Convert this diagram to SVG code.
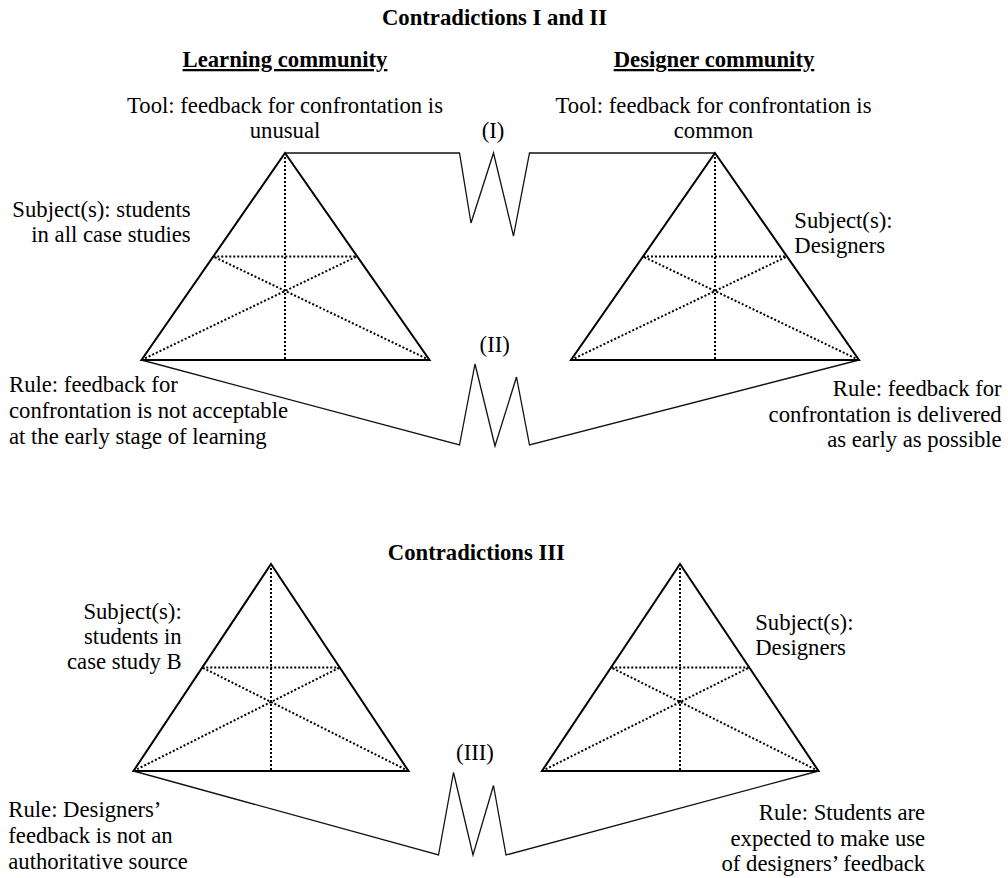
<svg xmlns="http://www.w3.org/2000/svg" width="1008" height="878" viewBox="0 0 1008 878">
<style>
text{font-family:"Liberation Serif","Times New Roman",serif;font-size:22.7px;fill:#000}
.b{font-weight:bold}
.u{text-decoration:underline}
.m{text-anchor:middle}
.e{text-anchor:end}
.tri{fill:none;stroke:#000;stroke-width:2;stroke-linejoin:miter}
.dot{fill:none;stroke:#000;stroke-width:2;stroke-dasharray:2 2}
.con{fill:none;stroke:#111;stroke-width:1.3;stroke-linejoin:miter}
</style>
<rect width="1008" height="878" fill="#fff"/>
<g id="titles">
<text class="b m" x="494.5" y="25">Contradictions I and II</text>
<text class="b u m" x="285" y="67">Learning community</text>
<text class="b u m" x="714" y="67">Designer community</text>
<text class="b m" x="476.4" y="559.5">Contradictions III</text>
</g>
<g id="connectors">
<path class="con" d="M285,153 H459.5 L471,223 L493.5,153 L513.5,236 L529.5,153 H715"/>
<path class="con" d="M141.5,360 L459.5,445 L475,364 L495,446 L516.5,377 L529.5,445 L859,360"/>
<path class="con" d="M133.5,771 L438.5,855 L453.5,772.5 L473,855 L493.5,785.5 L506,855 L818.5,771"/>
<text class="m" x="493" y="138">(I)</text>
<text class="m" x="494.7" y="352">(II)</text>
<text class="m" x="475" y="759.5">(III)</text>
</g>
<g id="learning-community-1">
<path class="dot" d="M285,153 V360 M213.25,256.5 H356.75 M141.5,360 L356.75,256.5 M429.5,360 L213.25,256.5"/>
<path class="tri" d="M285,153 L429.5,360 L141.5,360 Z"/>
<text class="m" x="285" y="112.5">Tool: feedback for confrontation is</text>
<text class="m" x="285" y="138">unusual</text>
<text class="e" x="190.7" y="217">Subject(s): students</text>
<text class="e" x="190.7" y="242">in all case studies</text>
<text x="9" y="391.5">Rule: feedback for</text>
<text x="9" y="418">confrontation is not acceptable</text>
<text x="9" y="444">at the early stage of learning</text>
</g>
<g id="designer-community-1">
<path class="dot" d="M715,153 V360 M643,256.5 H787 M571,360 L787,256.5 M859,360 L643,256.5"/>
<path class="tri" d="M715,153 L859,360 L571,360 Z"/>
<text class="m" x="713.5" y="112.5">Tool: feedback for confrontation is</text>
<text class="m" x="713.5" y="138">common</text>
<text x="794.3" y="228">Subject(s):</text>
<text x="794.3" y="253">Designers</text>
<text class="e" x="1001.7" y="396">Rule: feedback for</text>
<text class="e" x="1001.7" y="421.5">confrontation is delivered</text>
<text class="e" x="1001.7" y="447">as early as possible</text>
</g>
<g id="learning-community-3">
<path class="dot" d="M271,564 V771 M202.25,667.5 H339.75 M133.5,771 L339.75,667.5 M408.5,771 L202.25,667.5"/>
<path class="tri" d="M271,564 L408.5,771 L133.5,771 Z"/>
<text class="e" x="181.7" y="618.5">Subject(s):</text>
<text class="e" x="181.7" y="643.5">students in</text>
<text class="e" x="181.7" y="668.5">case study B</text>
<text x="8.3" y="817">Rule: Designers’</text>
<text x="8.3" y="843">feedback is not an</text>
<text x="8.3" y="868.5">authoritative source</text>
</g>
<g id="designer-community-3">
<path class="dot" d="M680,564 V771 M611.25,667.5 H749.25 M542,771 L749.25,667.5 M818.5,771 L611.25,667.5"/>
<path class="tri" d="M680,564 L818.5,771 L542,771 Z"/>
<text x="755.2" y="630">Subject(s):</text>
<text x="755.2" y="655">Designers</text>
<text class="e" x="925.2" y="820">Rule: Students are</text>
<text class="e" x="925.2" y="845.5">expected to make use</text>
<text class="e" x="925.2" y="871">of designers’ feedback</text>
</g>
</svg>
